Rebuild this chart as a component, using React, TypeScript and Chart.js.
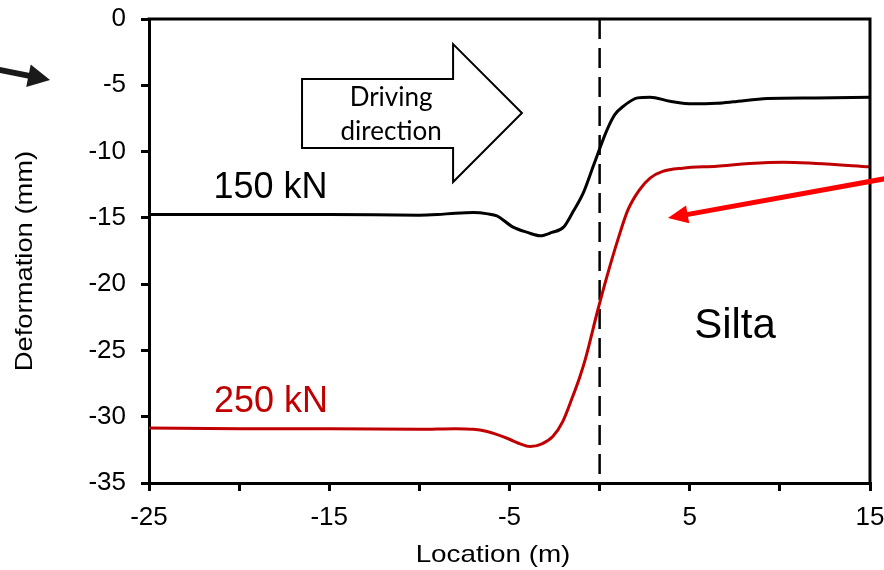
import React, { useEffect, useRef } from 'react';
import { Chart, registerables } from 'chart.js';

Chart.register(...registerables);

// ---- data ----
const location150 = [-25, -20, -15, -10, -9, -8, -7, -6.2, -5.7, -4.8, -4.0, -3.3, -2.65, -2.0, -1.5, -0.9, -0.3, 0.4, 0.85, 1.3, 2.1, 2.8, 3.9, 5.2, 6.5, 7.4, 9.3, 12, 15];
const deformation150 = [-14.75, -14.75, -14.75, -14.8, -14.75, -14.65, -14.6, -14.7, -14.85, -15.7, -16.1, -16.35, -16.1, -15.7, -14.6, -13.1, -10.9, -8.4, -7.2, -6.6, -5.95, -5.9, -6.2, -6.4, -6.35, -6.25, -6.0, -5.95, -5.9];

const location250 = [-25, -20, -15, -10, -8, -7, -6.3, -5.8, -5.0, -4.5, -3.85, -3.2, -2.6, -2.04, -1.5, -1.1, -0.8, -0.1, 0.4, 1.0, 1.57, 2.2, 2.8, 3.5, 4.6, 6.5, 8.3, 10.2, 12, 15];
const deformation250 = [-30.85, -30.9, -30.9, -30.95, -30.9, -30.95, -31.1, -31.3, -31.7, -32.0, -32.25, -32.05, -31.5, -30.35, -28.5, -27.0, -25.7, -21.95, -19.45, -16.7, -14.4, -12.9, -12.0, -11.5, -11.25, -11.1, -10.9, -10.8, -10.9, -11.15];

const xTickLabels = ['-25', '-15', '-5', '5', '15'];
const seriesLabels = ['150 kN', '250 kN'];
const xAxisTitle = 'Location (m)';
const yAxisTitle = 'Deformation (mm)';
const soilLabel = 'Silta';
const arrowText = ['Driving', 'direction'];
const boundaryLocation = 0;

// annotation anchors in data units
const label150At = [-18.26, -12.79];
const label250At = [-18.23, -28.93];
const soilLabelAt = [7.51, -23.16];
const blockArrow = [
  [-16.51, -4.53], [-8.13, -4.53], [-8.13, -1.89], [-4.31, -7.09],
  [-8.13, -12.3], [-8.13, -9.73], [-16.51, -9.73],
];
const arrowTextAt = [[-11.57, -6.56], [-11.57, -9.13]];
const blackArrow = [[-33.54, -3.77], [-30.49, -4.6]];
const redArrow = [[16.66, -11.84], [3.79, -15.01]];

const ARIAL = '"Liberation Sans", Arial, sans-serif';
const RED = '#c00000';

function drawArrow(ctx: CanvasRenderingContext2D, x0: number, y0: number, x1: number, y1: number, color: string, width: number, headLen: number, headHalf: number) {
  const ang = Math.atan2(y1 - y0, x1 - x0);
  const bx = x1 - headLen * Math.cos(ang);
  const by = y1 - headLen * Math.sin(ang);
  ctx.save();
  ctx.strokeStyle = color;
  ctx.lineWidth = width;
  ctx.beginPath();
  ctx.moveTo(x0, y0);
  ctx.lineTo(bx + Math.cos(ang), by + Math.sin(ang));
  ctx.stroke();
  ctx.fillStyle = color;
  ctx.beginPath();
  ctx.moveTo(x1, y1);
  ctx.lineTo(bx - headHalf * Math.sin(ang), by + headHalf * Math.cos(ang));
  ctx.lineTo(bx + headHalf * Math.sin(ang), by - headHalf * Math.cos(ang));
  ctx.closePath();
  ctx.fill();
  ctx.restore();
}

function stretchedText(ctx: CanvasRenderingContext2D, text: string, x: number, y: number, rotation: number, stretch: number) {
  ctx.save();
  ctx.translate(x, y);
  ctx.rotate(rotation);
  ctx.scale(stretch, 1);
  ctx.fillText(text, 0, 0);
  ctx.restore();
}

const annotationPlugin = {
  id: 'annotations',
  beforeDatasetsDraw(chart: any) {
    const { ctx, chartArea, scales } = chart;
    const x = scales.x.getPixelForValue(boundaryLocation);
    ctx.save();
    ctx.strokeStyle = '#000';
    ctx.lineWidth = 2.5;
    ctx.setLineDash([20, 9]);
    ctx.beginPath();
    ctx.moveTo(x, chartArea.top);
    ctx.lineTo(x, chartArea.bottom);
    ctx.stroke();
    ctx.restore();
  },
  afterDraw(chart: any) {
    const { ctx, chartArea, scales } = chart;
    const px = (v: number) => scales.x.getPixelForValue(v);
    const py = (v: number) => scales.y.getPixelForValue(v);
    ctx.save();
    // frame (top and right)
    ctx.strokeStyle = '#000';
    ctx.lineWidth = 3;
    ctx.lineCap = 'square';
    ctx.beginPath();
    ctx.moveTo(chartArea.left, chartArea.top);
    ctx.lineTo(chartArea.right, chartArea.top);
    ctx.lineTo(chartArea.right, chartArea.bottom);
    ctx.stroke();
    ctx.lineCap = 'butt';

    // block arrow
    ctx.beginPath();
    blockArrow.forEach(([a, b], i) => {
      if (i === 0) ctx.moveTo(px(a), py(b));
      else ctx.lineTo(px(a), py(b));
    });
    ctx.closePath();
    ctx.fillStyle = '#fff';
    ctx.fill();
    ctx.lineWidth = 2;
    ctx.lineJoin = 'miter';
    ctx.stroke();

    ctx.fillStyle = '#000';
    ctx.textAlign = 'center';
    ctx.textBaseline = 'alphabetic';
    ctx.font = '26px Lato, "Open Sans", sans-serif';
    arrowText.forEach((t, i) => ctx.fillText(t, px(arrowTextAt[i][0]), py(arrowTextAt[i][1])));

    // series labels
    ctx.textBaseline = 'middle';
    ctx.font = `36px ${ARIAL}`;
    ctx.fillStyle = '#000';
    ctx.fillText(seriesLabels[0], px(label150At[0]), py(label150At[1]));
    ctx.fillStyle = RED;
    ctx.fillText(seriesLabels[1], px(label250At[0]), py(label250At[1]));
    ctx.fillStyle = '#000';
    ctx.font = `42px ${ARIAL}`;
    ctx.fillText(soilLabel, px(soilLabelAt[0]), py(soilLabelAt[1]));

    // axis titles
    ctx.font = `24px ${ARIAL}`;
    stretchedText(ctx, xAxisTitle, chartArea.left + 344, chartArea.bottom + 72, 0, 1.16);
    stretchedText(ctx, yAxisTitle, chartArea.left - 124, (chartArea.top + chartArea.bottom) / 2 + 10, -Math.PI / 2, 1.14);
    ctx.restore();

    // arrows
    drawArrow(ctx, px(blackArrow[0][0]), py(blackArrow[0][1]), px(blackArrow[1][0]), py(blackArrow[1][1]), '#1a1a1a', 6, 22, 11.5);
    drawArrow(ctx, px(redArrow[0][0]), py(redArrow[0][1]), px(redArrow[1][0]), py(redArrow[1][1]), '#ff0000', 5, 20, 9);
  },
};

export default function App() {
  const ref = useRef<HTMLCanvasElement>(null);
  useEffect(() => {
    document.body.style.margin = '0';
    const chart = new Chart(ref.current as HTMLCanvasElement, {
      type: 'line',
      data: {
        datasets: [
          {
            label: seriesLabels[0],
            data: location150.map((x, i) => ({ x, y: deformation150[i] })),
            borderColor: '#000',
            borderWidth: 3,
            pointRadius: 0,
            cubicInterpolationMode: 'monotone',
            fill: false,
          },
          {
            label: seriesLabels[1],
            data: location250.map((x, i) => ({ x, y: deformation250[i] })),
            borderColor: RED,
            borderWidth: 3,
            pointRadius: 0,
            cubicInterpolationMode: 'monotone',
            fill: false,
          },
        ],
      },
      options: {
        responsive: false,
        animation: false,
        devicePixelRatio: 1,
        layout: { padding: { left: 0, top: 19, right: 14, bottom: 0 } },
        plugins: { legend: { display: false }, tooltip: { enabled: false } },
        scales: {
          x: {
            type: 'linear',
            min: -25,
            max: 15,
            afterFit: (s: any) => { s.height = 87; s.paddingLeft = 0; s.paddingRight = 0; },
            ticks: {
              stepSize: 5,
              autoSkip: false,
              maxRotation: 0,
              padding: 11,
              color: '#000',
              font: { family: ARIAL, size: 26 },
              callback: (v: any) => (xTickLabels.includes(String(v)) ? String(v) : ''),
            },
            grid: { drawOnChartArea: false, drawTicks: true, tickLength: 8, color: '#000', lineWidth: 3 },
            border: { color: '#000', width: 3 },
          },
          y: {
            type: 'linear',
            min: -35,
            max: 0,
            afterFit: (s: any) => { s.width = 149; s.paddingTop = 0; s.paddingBottom = 0; },
            ticks: {
              stepSize: 5,
              autoSkip: false,
              padding: 15,
              color: '#000',
              font: { family: ARIAL, size: 26 },
              callback: (v: any) => String(v),
            },
            grid: { drawOnChartArea: false, drawTicks: true, tickLength: 8, color: '#000', lineWidth: 3 },
            border: { color: '#000', width: 3 },
          },
        },
      },
      plugins: [annotationPlugin],
    } as any);
    return () => chart.destroy();
  }, []);
  return (
    <div style={{ position: 'absolute', left: 0, top: 0, width: 884, height: 570, background: '#fff' }}>
      <canvas ref={ref} width={884} height={570} />
    </div>
  );
}
